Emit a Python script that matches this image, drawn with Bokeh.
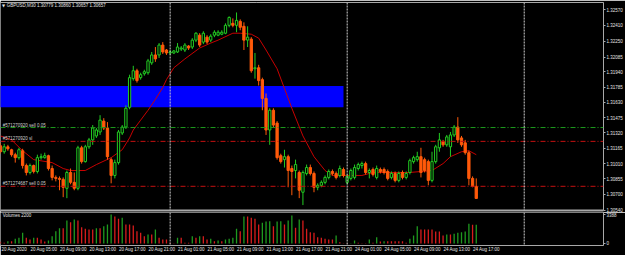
from bokeh.plotting import figure
from bokeh.models import (Range1d, LinearAxis, FixedTicker, PrintfTickFormatter,
                          Span, Label, ColumnDataSource)
from bokeh.layouts import column
from bokeh.embed import file_html
from bokeh.resources import INLINE

# ---------------- data (GBPUSD, M30) ----------------
bar_index = list(range(2, 132))   # bar 0 = 20 Aug 00:00, weekend gap removed

open_ = [
    1.3119, 1.3113, 1.3118, 1.3115, 1.3110, 1.3107, 1.3114, 1.3099, 1.3092, 1.3099,
    1.3093, 1.3107, 1.3107, 1.3109, 1.3096, 1.3087, 1.3086, 1.3085, 1.3076, 1.3092,
    1.3082, 1.3076, 1.3117, 1.3103, 1.3118, 1.3125, 1.3129, 1.3133, 1.3144, 1.3137,
    1.3105, 1.3089, 1.3102, 1.3132, 1.3138, 1.3158, 1.3187, 1.3195, 1.3188, 1.3192,
    1.3193, 1.3203, 1.3211, 1.3211, 1.3221, 1.3216, 1.3213, 1.3213, 1.3214, 1.3217,
    1.3216, 1.3220, 1.3219, 1.3226, 1.3231, 1.3224, 1.3229, 1.3226, 1.3231, 1.3231,
    1.3232, 1.3233, 1.3241, 1.3243, 1.3241, 1.3245, 1.3240, 1.3226, 1.3227, 1.3197,
    1.3198, 1.3186, 1.3167, 1.3135, 1.3155, 1.3142, 1.3109, 1.3105, 1.3108, 1.3096,
    1.3094, 1.3092, 1.3072, 1.3091, 1.3097, 1.3091, 1.3077, 1.3079, 1.3082, 1.3087,
    1.3093, 1.3091, 1.3089, 1.3095, 1.3082, 1.3086, 1.3087, 1.3096, 1.3099, 1.3101,
    1.3092, 1.3095, 1.3087, 1.3095, 1.3095, 1.3093, 1.3087, 1.3091, 1.3084, 1.3092,
    1.3087, 1.3092, 1.3103, 1.3105, 1.3108, 1.3105, 1.3103, 1.3084, 1.3103, 1.3117,
    1.3123, 1.3120, 1.3118, 1.3130, 1.3138, 1.3127, 1.3122, 1.3112, 1.3086, 1.30779,
]
high = [
    1.3122, 1.3121, 1.3120, 1.3116, 1.3112, 1.3117, 1.3116, 1.3101, 1.3101, 1.3100,
    1.3110, 1.3111, 1.3112, 1.3110, 1.3099, 1.3089, 1.3088, 1.3087, 1.3094, 1.3096,
    1.3092, 1.3119, 1.3119, 1.3120, 1.3127, 1.3140, 1.3137, 1.3150, 1.3147, 1.3143,
    1.3107, 1.3105, 1.3135, 1.3140, 1.3160, 1.3191, 1.3200, 1.3197, 1.3193, 1.3196,
    1.3207, 1.3214, 1.3219, 1.3223, 1.3224, 1.3217, 1.3216, 1.3216, 1.3223, 1.3220,
    1.3223, 1.3221, 1.3228, 1.3234, 1.3233, 1.3235, 1.3231, 1.3232, 1.3236, 1.3236,
    1.3236, 1.3243, 1.3250, 1.3248, 1.3254, 1.3247, 1.3244, 1.3240, 1.3229, 1.3213,
    1.3201, 1.3188, 1.3172, 1.3157, 1.3157, 1.3144, 1.3111, 1.3115, 1.3110, 1.3099,
    1.3105, 1.3094, 1.3094, 1.3100, 1.3100, 1.3093, 1.3081, 1.3084, 1.3089, 1.3095,
    1.3095, 1.3093, 1.3099, 1.3097, 1.3090, 1.3096, 1.3100, 1.3102, 1.3103, 1.3103,
    1.3096, 1.3097, 1.3099, 1.3097, 1.3097, 1.3095, 1.3093, 1.3093, 1.3093, 1.3094,
    1.3093, 1.3106, 1.3109, 1.3113, 1.3117, 1.3107, 1.3105, 1.3113, 1.3120, 1.3132,
    1.3125, 1.3130, 1.3133, 1.3140, 1.3148, 1.3129, 1.3125, 1.3114, 1.3088, 1.30860,
]
low = [
    1.3111, 1.3111, 1.3114, 1.3108, 1.3102, 1.3105, 1.3096, 1.3089, 1.3090, 1.3091,
    1.3091, 1.3105, 1.3106, 1.3094, 1.3084, 1.3083, 1.3074, 1.3067, 1.3066, 1.3080,
    1.3074, 1.3074, 1.3101, 1.3102, 1.3116, 1.3120, 1.3127, 1.3130, 1.3135, 1.3105,
    1.3081, 1.3086, 1.3100, 1.3130, 1.3136, 1.3156, 1.3185, 1.3183, 1.3186, 1.3190,
    1.3191, 1.3201, 1.3204, 1.3208, 1.3212, 1.3211, 1.3211, 1.3212, 1.3213, 1.3215,
    1.3214, 1.3216, 1.3217, 1.3224, 1.3219, 1.3222, 1.3222, 1.3224, 1.3229, 1.3230,
    1.3231, 1.3232, 1.3239, 1.3239, 1.3234, 1.3236, 1.3216, 1.3219, 1.3193, 1.3187,
    1.3180, 1.3155, 1.3130, 1.3120, 1.3138, 1.3105, 1.3101, 1.3097, 1.3077, 1.3069,
    1.3086, 1.3066, 1.3059, 1.3089, 1.3089, 1.3072, 1.3074, 1.3077, 1.3080, 1.3085,
    1.3089, 1.3085, 1.3087, 1.3087, 1.3080, 1.3084, 1.3085, 1.3094, 1.3096, 1.3090,
    1.3086, 1.3088, 1.3085, 1.3091, 1.3090, 1.3084, 1.3085, 1.3082, 1.3082, 1.3085,
    1.3085, 1.3090, 1.3101, 1.3103, 1.3087, 1.3092, 1.3079, 1.3082, 1.3101, 1.3113,
    1.3118, 1.3118, 1.3108, 1.3128, 1.3122, 1.3118, 1.3110, 1.3079, 1.3077, 1.30657,
]
close = [
    1.3113, 1.3118, 1.3116, 1.3110, 1.3107, 1.3115, 1.3099, 1.3092, 1.3099, 1.3093,
    1.3107, 1.3108, 1.3109, 1.3096, 1.3087, 1.3086, 1.3085, 1.3077, 1.3092, 1.3082,
    1.3076, 1.3117, 1.3103, 1.3118, 1.3125, 1.3137, 1.3135, 1.3145, 1.3137, 1.3108,
    1.3089, 1.3102, 1.3133, 1.3138, 1.3157, 1.3188, 1.3195, 1.3185, 1.3191, 1.3194,
    1.3205, 1.3211, 1.3207, 1.3221, 1.3214, 1.3213, 1.3214, 1.3215, 1.3219, 1.3218,
    1.3221, 1.3218, 1.3226, 1.3233, 1.3221, 1.3233, 1.3224, 1.3230, 1.3234, 1.3234,
    1.3234, 1.3241, 1.3249, 1.3241, 1.3246, 1.3239, 1.3226, 1.3229, 1.3195, 1.3198,
    1.3185, 1.3167, 1.3135, 1.3155, 1.3140, 1.3107, 1.3103, 1.3108, 1.3094, 1.3093,
    1.3100, 1.3074, 1.3092, 1.3097, 1.3091, 1.3077, 1.3079, 1.3082, 1.3087, 1.3093,
    1.3091, 1.3087, 1.3096, 1.3089, 1.3088, 1.3094, 1.3097, 1.3100, 1.3101, 1.3092,
    1.3094, 1.3090, 1.3096, 1.3093, 1.3092, 1.3086, 1.3091, 1.3084, 1.3091, 1.3087,
    1.3091, 1.3104, 1.3107, 1.3108, 1.3092, 1.3094, 1.3084, 1.3103, 1.3118, 1.3125,
    1.3120, 1.3128, 1.3130, 1.3138, 1.3125, 1.3120, 1.3112, 1.3086, 1.30779, 1.30657,
]
volume = [
    200, 80, 270, 270, 545, 660, 1250, 660, 470, 660,
    660, 470, 235, 350, 855, 1440, 1790, 1790, 2690, 2490,
    2800, 2690, 1910, 1710, 1635, 1635, 1790, 1790, 2025, 2220,
    3388, 3155, 2880, 3000, 2220, 2220, 2100, 1440, 1245, 855,
    1050, 1050, 1635, 660, 470, 470, 80, 40, 660, 660,
    80, 80, 855, 660, 855, 855, 470, 545, 270, 350,
    270, 470, 545, 660, 1710, 1440, 3155, 3155, 3000, 2880,
    2220, 2415, 2570, 2610, 2025, 2570, 2610, 2220, 2690, 3270,
    1830, 2800, 2690, 1710, 1300, 1250, 740, 660, 545, 470,
    470, 935, 155, 40, 20, 30, 350, 80, 40, 30,
    470, 80, 740, 235, 270, 270, 270, 270, 270, 270,
    80, 545, 935, 2025, 1635, 1635, 1635, 1635, 1400, 1400,
    935, 1050, 1050, 1130, 1245, 1325, 1400, 2300, 2180, 2200,
]

# moving average
ma_index = [2, 5, 8, 11, 16, 19, 21, 25, 28, 32, 35, 37, 38, 40, 42, 44, 46, 47, 49, 52,
            56, 59, 61, 65, 67, 70, 72, 74, 77, 79, 81, 84, 87, 90, 92, 96, 100, 103, 109,
            113, 116, 119, 122, 124, 127, 129, 131]
ma_value = [1.3129, 1.3125, 1.3114, 1.3105, 1.3102, 1.3096, 1.3094, 1.3094, 1.3100, 1.3107,
            1.3115, 1.3127, 1.3135, 1.3145, 1.3155, 1.3166, 1.3178, 1.3186, 1.3198, 1.3207,
            1.3218, 1.3223, 1.3226, 1.3233, 1.3233, 1.3232, 1.3228, 1.3216, 1.3197, 1.3177,
            1.3157, 1.3129, 1.3108, 1.3094, 1.3089, 1.3089, 1.3089, 1.3092, 1.3092, 1.3092,
            1.3093, 1.3094, 1.3101, 1.3108, 1.3113, 1.3114, 1.3110]

# objects on the chart
zone_right_bar = 95
zone_top, zone_bottom = 1.31795, 1.31580
order_levels = [1.31375, 1.31235, 1.30780]
order_texts = ["#571270920 sell 0.05", "#571270920 sl", "#571274687 sell 0.05"]
order_colors = ["#1c9a1c", "#c41010", "#c41010"]
day_separators = [48, 96, 144]

price_ticks = [1.32570, 1.32410, 1.32250, 1.32085, 1.31940, 1.31785, 1.31630,
               1.31475, 1.31320, 1.31165, 1.31010, 1.30855, 1.30700, 1.30540]
time_tick_bars = [2, 10, 18, 26, 34, 42, 50, 58, 66, 74, 82, 90, 98, 106, 114, 122, 130]
time_tick_labels = ["20 Aug 2020", "20 Aug 05:00", "20 Aug 09:00", "20 Aug 13:00",
                    "20 Aug 17:00", "20 Aug 21:00", "21 Aug 01:00", "21 Aug 05:00",
                    "21 Aug 09:00", "21 Aug 13:00", "21 Aug 17:00", "21 Aug 21:00",
                    "24 Aug 01:00", "24 Aug 05:00", "24 Aug 09:00", "24 Aug 13:00",
                    "24 Aug 17:00"]
volume_ticks = [0, 3388]
header = "GBPUSD,M30  1.30779 1.30860 1.30657 1.30657"
volume_title = "Volumes 2200"
last_price = 1.30657

# ---------------- style ----------------
FONT = "Liberation Sans"
FS = "4.5px"
LINE = "#a8a8a8"
TXT = "#e4e4e4"
BULL = "#22cc22"
BEAR = "#ff5a0a"
VUP = "#1f9a1f"
VDN = "#d81c1c"

up = [c >= o for o, c in zip(open_, close)]
bull = ColumnDataSource(dict(
    x=[i for i, u in zip(bar_index, up) if u],
    top=[c for c, u in zip(close, up) if u],
    bottom=[o for o, u in zip(open_, up) if u],
    hi=[h for h, u in zip(high, up) if u],
    lo=[l for l, u in zip(low, up) if u]))
bear = ColumnDataSource(dict(
    x=[i for i, u in zip(bar_index, up) if not u],
    top=[o for o, u in zip(open_, up) if not u],
    bottom=[c for c, u in zip(close, up) if not u],
    hi=[h for h, u in zip(high, up) if not u],
    lo=[l for l, u in zip(low, up) if not u]))

vol_colors = [VDN] + [VUP if volume[i] > volume[i - 1] else VDN for i in range(1, len(volume))]
vsrc = ColumnDataSource(dict(x=bar_index, v=volume, z=[0] * len(volume), c=vol_colors))

xr = Range1d(2.0, 165.5)

# ---------------- price pane ----------------
p1 = figure(width=625, height=212, x_range=xr, y_range=Range1d(1.30535, 1.32641),
            x_axis_location=None, y_axis_location=None, toolbar_location=None,
            output_backend="svg", min_border_left=0, min_border_right=22,
            min_border_top=2, min_border_bottom=2,
            background_fill_color="black", border_fill_color="black",
            outline_line_color=None)
p1.grid.visible = False

ax_r = LinearAxis(ticker=FixedTicker(ticks=price_ticks),
                  formatter=PrintfTickFormatter(format="%.5f"),
                  axis_line_color=LINE, major_tick_line_color=LINE, major_tick_out=2,
                  major_tick_in=0, minor_tick_line_color=None,
                  major_label_text_font=FONT, major_label_text_font_size=FS,
                  major_label_text_color=TXT, major_label_standoff=1)
p1.add_layout(ax_r, "right")
for side, w in (("above", 1), ("below", 2)):
    a = LinearAxis(ticker=FixedTicker(ticks=[]), axis_line_color=LINE, axis_line_width=w,
                   major_tick_line_color=None, minor_tick_line_color=None,
                   major_label_text_font_size="0px")
    p1.add_layout(a, side)

p1.quad(left=[-10], right=[zone_right_bar], top=[zone_top], bottom=[zone_bottom],
        fill_color="#0000ff", line_color=None)

for lvl, col in zip(order_levels, order_colors):
    p1.add_layout(Span(location=lvl, dimension="width", line_color=col,
                       line_dash="5 2 1 2", line_width=1))
for d in day_separators:
    p1.add_layout(Span(location=d, dimension="height", line_color="#cfcfcf",
                       line_dash="2 1", line_width=1))

p1.line(ma_index, ma_value, line_color="#c80000", line_width=1)

p1.segment(x0="x", y0="lo", x1="x", y1="hi", source=bull, line_color=BULL, line_width=1)
p1.segment(x0="x", y0="lo", x1="x", y1="hi", source=bear, line_color=BEAR, line_width=1)
p1.vbar(x="x", top="top", bottom="bottom", width=0.62, source=bull,
        fill_color="black", line_color=BULL, line_width=1)
p1.vbar(x="x", top="top", bottom="bottom", width=0.62, source=bear,
        fill_color=BEAR, line_color=BEAR, line_width=1)

for lvl, txt in zip(order_levels, order_texts):
    p1.add_layout(Label(x=2.6, y=lvl, text=txt, text_font=FONT, text_font_size=FS,
                        text_color="#cfcfcf", text_baseline="bottom"))

p1.add_layout(Label(x=2.4, y=1.3261, text="\u25BC", text_font="DejaVu Sans",
                    text_font_size="4px", text_color=TXT, text_baseline="middle"))
p1.add_layout(Label(x=3.7, y=1.3261, text=header, text_font=FONT, text_font_size=FS,
                    text_color=TXT, text_baseline="middle"))
p1.add_layout(Label(x=604, x_units="screen", y=last_price, text="1.30657",
                    text_font=FONT, text_font_size=FS, text_color="black",
                    background_fill_color="white", text_baseline="middle"))

# ---------------- volume pane ----------------
p2 = figure(width=625, height=43, x_range=xr, y_range=Range1d(-234, 3622),
            x_axis_location=None, y_axis_location=None, toolbar_location=None,
            output_backend="svg", min_border_left=0, min_border_right=22,
            min_border_top=0, min_border_bottom=10,
            background_fill_color="black", border_fill_color="black",
            outline_line_color=None)
p2.grid.visible = False

ax_v = LinearAxis(ticker=FixedTicker(ticks=volume_ticks),
                  axis_line_color=LINE, major_tick_line_color=LINE, major_tick_out=2,
                  major_tick_in=0, minor_tick_line_color=None,
                  major_label_text_font=FONT, major_label_text_font_size=FS,
                  major_label_text_color=TXT, major_label_standoff=1)
p2.add_layout(ax_v, "right")

shift = 3.75  # MT4 writes each time label to the right of its bar
time_ticks = [b + shift for b in time_tick_bars]
ax_t = LinearAxis(ticker=FixedTicker(ticks=time_ticks),
                  major_label_overrides={t: s for t, s in zip(time_ticks, time_tick_labels)},
                  axis_line_color=LINE, major_tick_line_color=None,
                  minor_tick_line_color=None, major_tick_out=0, major_tick_in=0,
                  major_label_text_font=FONT, major_label_text_font_size=FS,
                  major_label_text_color=TXT, major_label_standoff=1)
p2.add_layout(ax_t, "below")

for d in day_separators:
    p2.add_layout(Span(location=d, dimension="height", line_color="#cfcfcf",
                       line_dash="2 1", line_width=1))

p2.segment(x0="x", y0="z", x1="x", y1="v", source=vsrc, line_color="c", line_width=1.3)
p2.add_layout(Label(x=2.6, y=3300, text=volume_title, text_font=FONT, text_font_size=FS,
                    text_color=TXT, text_baseline="middle"))

layout = column(p1, p2, spacing=0)
open("out.html", "w").write(file_html(layout, INLINE))
